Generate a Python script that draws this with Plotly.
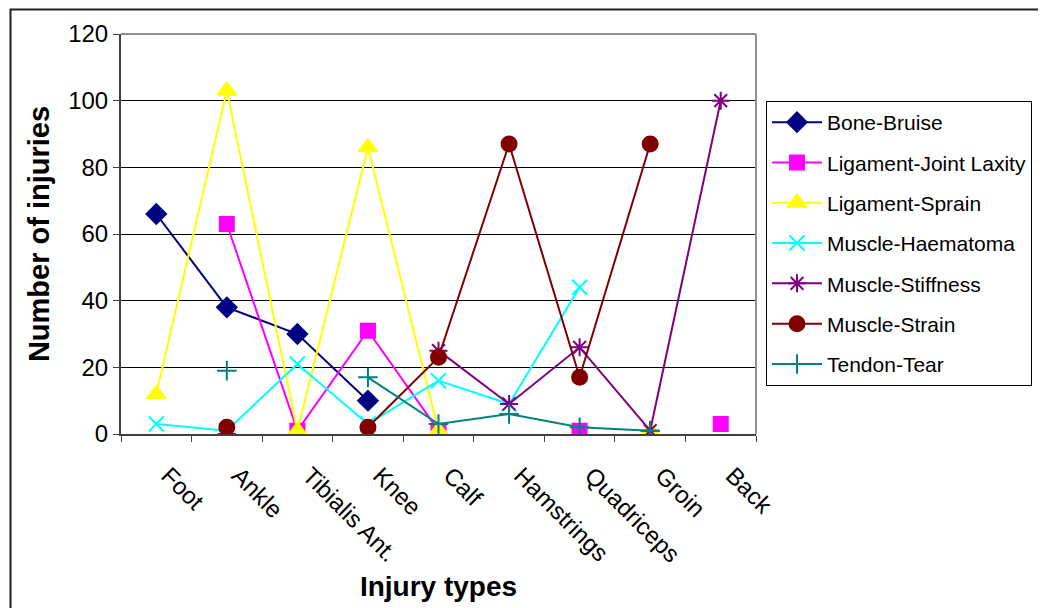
import plotly.graph_objects as go

categories = ["Foot", "Ankle", "Tibialis Ant.", "Knee", "Calf", "Hamstrings", "Quadriceps", "Groin", "Back"]

bone_bruise = [66, 38, 30, 10, None, None, None, None, None]
ligament_joint_laxity = [None, 63, 1, 31, 1, None, 1, None, 3]
ligament_sprain = [12, 103, 1, 86, 1, None, None, 1, None]
muscle_haematoma = [3, 1, 21, 3, 16, 9, 44, None, None]
muscle_stiffness = [None, 0, None, None, 25, 9, 26, 1, 100]
muscle_strain = [None, 2, None, 2, 23, 87, 17, 87, None]
tendon_tear = [None, 19, None, 17, 3, 6, 2, 1, None]

series = [
    ("Bone-Bruise", bone_bruise, "#000080", "diamond", 15),
    ("Ligament-Joint Laxity", ligament_joint_laxity, "#FF00FF", "square", 14),
    ("Ligament-Sprain", ligament_sprain, "#FFFF00", "triangle-up", 16),
    ("Muscle-Haematoma", muscle_haematoma, "#00FFFF", "x-thin-open", 15),
    ("Muscle-Stiffness", muscle_stiffness, "#800080", "asterisk-open", 15),
    ("Muscle-Strain", muscle_strain, "#800000", "circle", 15),
    ("Tendon-Tear", tendon_tear, "#008080", "cross-thin-open", 14),
]

fig = go.Figure()
for i, (name, vals, color, sym, size) in enumerate(series):
    fig.add_trace(go.Scatter(
        x=categories, y=vals, name=name, mode="lines+markers",
        connectgaps=False, legendgroup=f"g{i}",
        line=dict(color=color, width=2),
        marker=dict(symbol=sym, size=size, color=color,
                    line=dict(color=color, width=2)),
    ))

# the page body has an 8px margin, so the figure is offset by 8px
OFF = 8
W, H = 1046 - OFF, 608 - OFF
L, R, T, B = 121 - OFF, 756 - OFF, 34 - OFF, 434 - OFF
def px(x): return (x - OFF - L) / (R - L)
def py(y): return (B - (y - OFF)) / (B - T)

fig.update_layout(
    width=W, height=H,
    margin=dict(l=L, r=W - R, t=T, b=H - B),
    paper_bgcolor="white", plot_bgcolor="white",
    font=dict(family="Arial, Liberation Sans, sans-serif", color="black"),
    showlegend=True,
    legend=dict(
        x=px(766), y=py(101), xanchor="left", yanchor="top",
        bordercolor="black", borderwidth=1, bgcolor="white",
        font=dict(size=21), tracegroupgap=10,
        itemwidth=50,
    ),
    xaxis=dict(
        type="category", range=[-0.5, 8.5],
        showgrid=False, showline=True, linecolor="#404040", linewidth=2,
        ticks="outside", tickson="boundaries", ticklen=6, tickcolor="#404040",
        tickangle=45, tickfont=dict(size=24), ticklabelstandoff=16,
        ticklabelshift=12,
        title=dict(text="<b>Injury types</b>", font=dict(size=28), standoff=10),
    ),
    yaxis=dict(
        range=[0, 120], dtick=20,
        showgrid=True, gridcolor="black", gridwidth=1,
        showline=True, linecolor="#404040", linewidth=2,
        ticks="outside", ticklen=6, tickcolor="#404040",
        tickfont=dict(size=24),
        title=dict(text="<b>Number of injuries</b>", font=dict(size=29), standoff=10),
        zeroline=False,
    ),
    shapes=[
        dict(type="line", xref="paper", yref="paper", x0=0, x1=1, y0=1, y1=1,
             line=dict(color="#909090", width=2)),
        dict(type="line", xref="paper", yref="paper", x0=1, x1=1, y0=0, y1=1,
             line=dict(color="#909090", width=2)),
        dict(type="rect", xref="paper", yref="paper",
             x0=px(10.5), x1=px(1080), y0=py(660), y1=py(9.5),
             line=dict(color="#202020", width=2), layer="below"),
    ],
)

fig.write_html("out.html")
